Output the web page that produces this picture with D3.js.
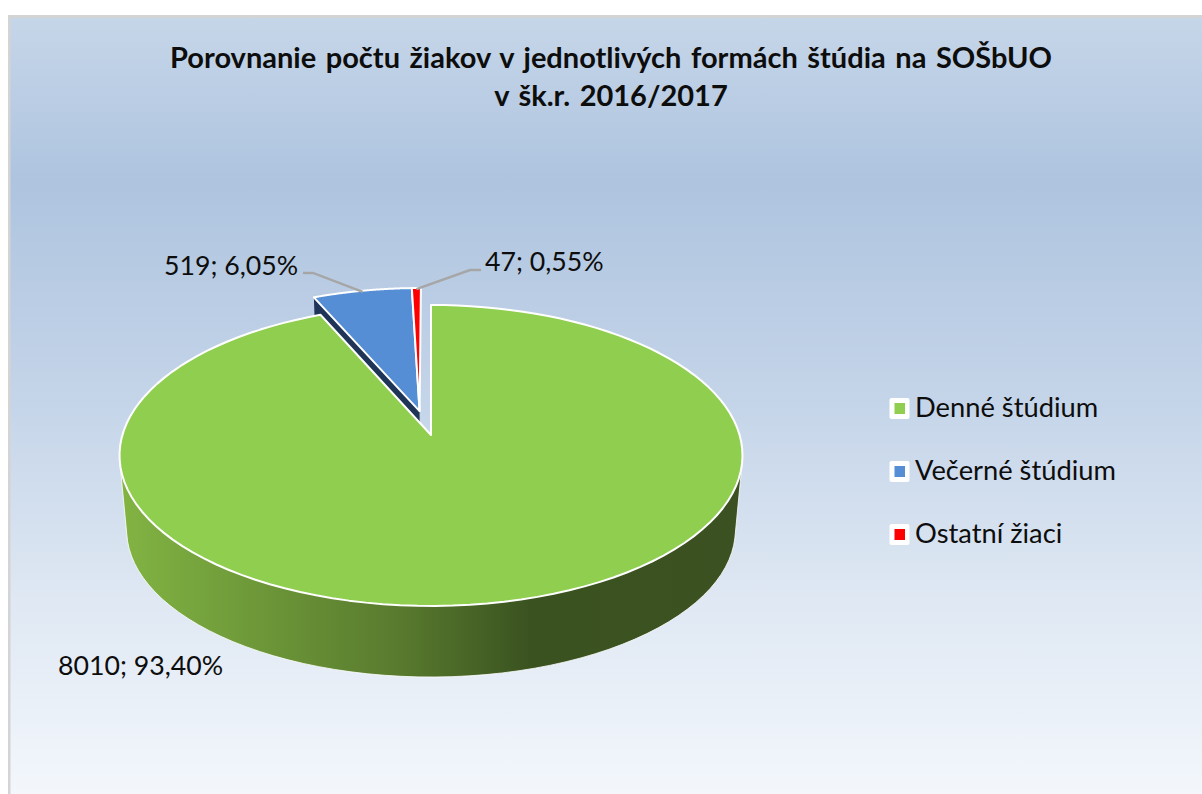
<!DOCTYPE html>
<html><head><meta charset="utf-8">
<script src="https://cdn.jsdelivr.net/npm/d3@7"></script>
<style>html,body{margin:0;padding:0;background:#fff}svg{display:block}text{font-family:Lato,"Open Sans",sans-serif;fill:#0d0d0d}</style>
</head><body><div id="c"></div>
<script>
const categories=["Denné štúdium","Večerné štúdium","Ostatní žiaci"];
const values=[8010,519,47];
const percentLabels=["93,40%","6,05%","0,55%"];
const colors=["#90ce50","#558ed5","#ff0000"];
const titleLines=["Porovnanie počtu žiakov v jednotlivých formách štúdia na SOŠbUO","v šk.r. 2016/2017"];

const W=1202,H=794;
const svg=d3.select("#c").append("svg").attr("width",W).attr("height",H);
const defs=svg.append("defs");
const bg=defs.append("linearGradient").attr("id","bg").attr("x1",0).attr("y1",0).attr("x2",0).attr("y2",1);
[[0,"#c6d6e9"],[0.21,"#aec4df"],[0.5,"#c5d5e9"],[0.75,"#dfe8f3"],[1,"#f3f7fc"]].forEach(s=>bg.append("stop").attr("offset",s[0]).attr("stop-color",s[1]));
const wallG=defs.append("linearGradient").attr("id","wall").attr("gradientUnits","userSpaceOnUse").attr("x1",120).attr("y1",0).attr("x2",743).attr("y2",0);
[[0,"#82b443"],[0.45,"#587a2e"],[0.66,"#3a5220"],[1,"#3c5121"]].forEach(s=>wallG.append("stop").attr("offset",s[0]).attr("stop-color",s[1]));

svg.append("rect").attr("x",8).attr("y",15).attr("width",W-8).attr("height",H-15).attr("fill","#d4d4d4");
svg.append("rect").attr("x",10.5).attr("y",18).attr("width",W-10.5).attr("height",H-18).attr("fill","url(#bg)");

// perspective projection of the pie plane
const cx=431,y0=435,k=0.136,RX=308.6,RY=147.7;
const proj=(u,v,q=1,dy=0)=>{const s=1/(1+k*v);return [cx+RX*q*u*s,y0+dy-RY*q*v*s];};
const pie=d3.pie().sort(null).startAngle(0).endAngle(2*Math.PI)(values);
const mid=(pie[1].startAngle+pie[1].endAngle)/2, dist=0.17, shrink=0.985;
const off=[[0,0],[Math.sin(mid)*dist,Math.cos(mid)*dist],[Math.sin(mid)*dist,Math.cos(mid)*dist]];
const rad=[1,shrink,shrink];
const line=d3.line();
const topPt=(i,a,r=1)=>proj(off[i][0]+rad[i]*r*Math.sin(a),off[i][1]+rad[i]*r*Math.cos(a));
const lowQ=0.977,lowDy=75;
const lowPt=(i,a,r=1)=>proj(off[i][0]+rad[i]*r*Math.sin(a),off[i][1]+rad[i]*r*Math.cos(a),lowQ,lowDy);
const rimAngles=(d)=>d3.range(0,121).map(j=>d.startAngle+(d.endAngle-d.startAngle)*j/120);
const sector=i=>[proj(off[i][0],off[i][1]),...rimAngles(pie[i]).map(a=>topPt(i,a))];

const plot=svg.append("g");
// exploded slices walls
plot.append("path").attr("d",line([topPt(1,pie[1].startAngle,0),topPt(1,pie[1].startAngle),lowPt(1,pie[1].startAngle),lowPt(1,pie[1].startAngle,0)])+"Z").attr("fill","#1f3558");
// exploded slices tops
[1,2].forEach(i=>plot.append("path").attr("d",line(sector(i))+"Z").attr("fill",colors[i]).attr("stroke","#fff").attr("stroke-width",2).attr("stroke-linejoin","round"));
// main slice wall: hull of the front half of both rims
const ang=rimAngles(pie[0]).filter(a=>Math.cos(a)<0);
const hull=d3.polygonHull([...ang.map(a=>topPt(0,a)),...ang.map(a=>lowPt(0,a))]);
plot.append("path").attr("d",line(hull)+"Z").attr("fill","url(#wall)").attr("stroke","#fff").attr("stroke-width",1).attr("stroke-opacity",0.8);
plot.append("path").attr("d",line(sector(0))+"Z").attr("fill",colors[0]).attr("stroke","#fff").attr("stroke-width",2).attr("stroke-linejoin","round");

// leader lines
const leader=[null,[[303,273],[313,273]],[[481,270],[470,270]]];
[1,2].forEach(i=>{const a=(pie[i].startAngle+pie[i].endAngle)/2;
  plot.append("path").attr("d",line([...leader[i],topPt(i,a,0.99)])).attr("fill","none").attr("stroke","#a6a6a6").attr("stroke-width",2.4);});

// labels
const lab=(x,y,i)=>svg.append("text").attr("x",x).attr("y",y).attr("font-size",26.7).text(`${values[i]}; ${percentLabels[i]}`);
lab(58,675,0);lab(164,275,1);lab(485,271,2);

// title
titleLines.forEach((t,i)=>svg.append("text").attr("x",611).attr("y",[68,106][i]).attr("text-anchor","middle").attr("font-size",29).attr("font-weight",700).attr("word-spacing",2.5).text(t));

// legend
const ly=d3.scalePoint().domain(categories).range([408,534]);
const leg=svg.append("g").selectAll("g").data(categories).join("g").attr("transform",d=>`translate(0,${ly(d)})`);
leg.append("rect").attr("x",889.5).attr("y",-10).attr("width",20).attr("height",21).attr("rx",2).attr("fill","#fff");
leg.append("rect").attr("x",894.5).attr("y",-5).attr("width",10.5).attr("height",11).attr("fill",(d,i)=>colors[i]);
leg.append("text").attr("x",915).attr("y",9).attr("font-size",27.3).text(d=>d);
</script></body></html>
